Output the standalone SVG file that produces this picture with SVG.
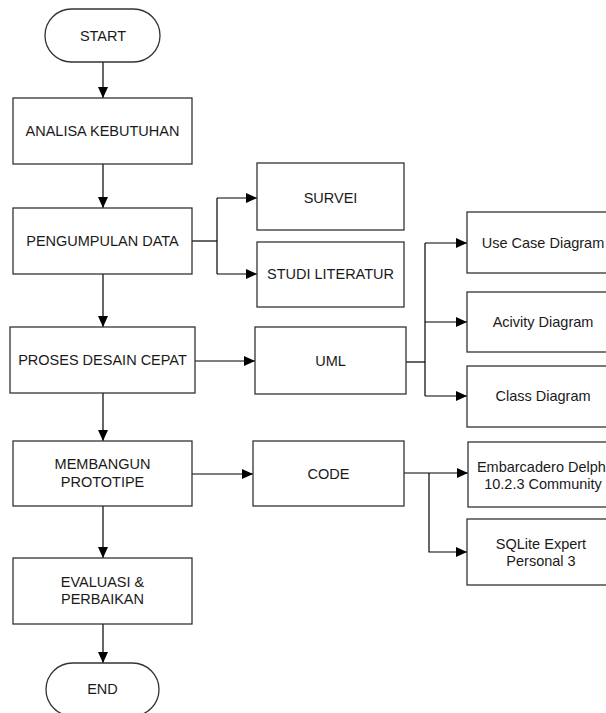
<svg xmlns="http://www.w3.org/2000/svg" width="606" height="713" viewBox="0 0 606 713">
<style>
.box{fill:#fff;stroke:#333;stroke-width:1.3}
.t{font-family:"Liberation Sans",Arial,sans-serif;font-size:14.5px;fill:#1a1a1a;text-anchor:middle}
.c{fill:none;stroke:#000;stroke-width:1.2}
</style>
<defs>
<marker id="ah" markerUnits="userSpaceOnUse" markerWidth="11" markerHeight="10" refX="11" refY="5" orient="auto">
<path d="M0,0 L11,5 L0,10 z" fill="#000"/>
</marker>
</defs>
<rect width="606" height="713" fill="#fff"/>
<g id="connectors">
<path class="c" d="M103,62 V98" marker-end="url(#ah)"/>
<path class="c" d="M103,164 V208" marker-end="url(#ah)"/>
<path class="c" d="M192,241 H217"/>
<path class="c" d="M217,198 V274"/>
<path class="c" d="M217,198 H257" marker-end="url(#ah)"/>
<path class="c" d="M217,274 H257" marker-end="url(#ah)"/>
<path class="c" d="M103,274 V327" marker-end="url(#ah)"/>
<path class="c" d="M195,361 H255" marker-end="url(#ah)"/>
<path class="c" d="M406,362 H425"/>
<path class="c" d="M425,243 V396"/>
<path class="c" d="M425,243 H467" marker-end="url(#ah)"/>
<path class="c" d="M425,322 H467" marker-end="url(#ah)"/>
<path class="c" d="M425,396 H467" marker-end="url(#ah)"/>
<path class="c" d="M103,393 V441" marker-end="url(#ah)"/>
<path class="c" d="M192,474 H253" marker-end="url(#ah)"/>
<path class="c" d="M404,473 H468" marker-end="url(#ah)"/>
<path class="c" d="M429,473 V552 H467" marker-end="url(#ah)"/>
<path class="c" d="M103,506 V558" marker-end="url(#ah)"/>
<path class="c" d="M103,624 V663" marker-end="url(#ah)"/>
</g>
<g id="start"><rect class="box" x="45" y="9" width="115" height="53" rx="26.5"/><text class="t" x="103" y="40.5">START</text></g>
<g id="analisa"><rect class="box" x="13" y="98" width="179" height="66"/><text class="t" x="102.5" y="136">ANALISA KEBUTUHAN</text></g>
<g id="pengumpulan"><rect class="box" x="13" y="208" width="179" height="66"/><text class="t" x="102.5" y="246">PENGUMPULAN DATA</text></g>
<g id="survei"><rect class="box" x="257" y="163" width="147" height="67"/><text class="t" x="330.5" y="203">SURVEI</text></g>
<g id="studi"><rect class="box" x="257" y="242" width="147" height="65"/><text class="t" x="330.5" y="279">STUDI LITERATUR</text></g>
<g id="proses"><rect class="box" x="10" y="327" width="185" height="66"/><text class="t" x="102.5" y="365">PROSES DESAIN CEPAT</text></g>
<g id="uml"><rect class="box" x="255" y="327" width="151" height="67"/><text class="t" x="330.5" y="366">UML</text></g>
<g id="usecase"><rect class="box" x="467" y="212" width="151" height="61"/><text class="t" x="543" y="248">Use Case Diagram</text></g>
<g id="activity"><rect class="box" x="467" y="292" width="151" height="60"/><text class="t" x="543" y="327">Acivity Diagram</text></g>
<g id="class"><rect class="box" x="467" y="366" width="151" height="61"/><text class="t" x="543" y="401">Class Diagram</text></g>
<g id="membangun"><rect class="box" x="13" y="441" width="179" height="65"/><text class="t" x="102.5" y="469">MEMBANGUN</text><text class="t" x="102.5" y="487">PROTOTIPE</text></g>
<g id="code"><rect class="box" x="253" y="441" width="151" height="65"/><text class="t" x="328.5" y="479">CODE</text></g>
<g id="delphi"><rect class="box" x="468" y="442" width="150" height="65"/><text class="t" x="543" y="471.5">Embarcadero Delphi</text><text class="t" x="543" y="489">10.2.3 Community</text></g>
<g id="sqlite"><rect class="box" x="467" y="519" width="151" height="66"/><text class="t" x="541" y="549">SQLite Expert</text><text class="t" x="541" y="566">Personal 3</text></g>
<g id="evaluasi"><rect class="box" x="13" y="558" width="179" height="66"/><text class="t" x="102.5" y="587">EVALUASI &amp;</text><text class="t" x="102.5" y="604">PERBAIKAN</text></g>
<g id="end"><rect class="box" x="46" y="663" width="113" height="53" rx="26.5"/><text class="t" x="102.5" y="694">END</text></g>
</svg>
